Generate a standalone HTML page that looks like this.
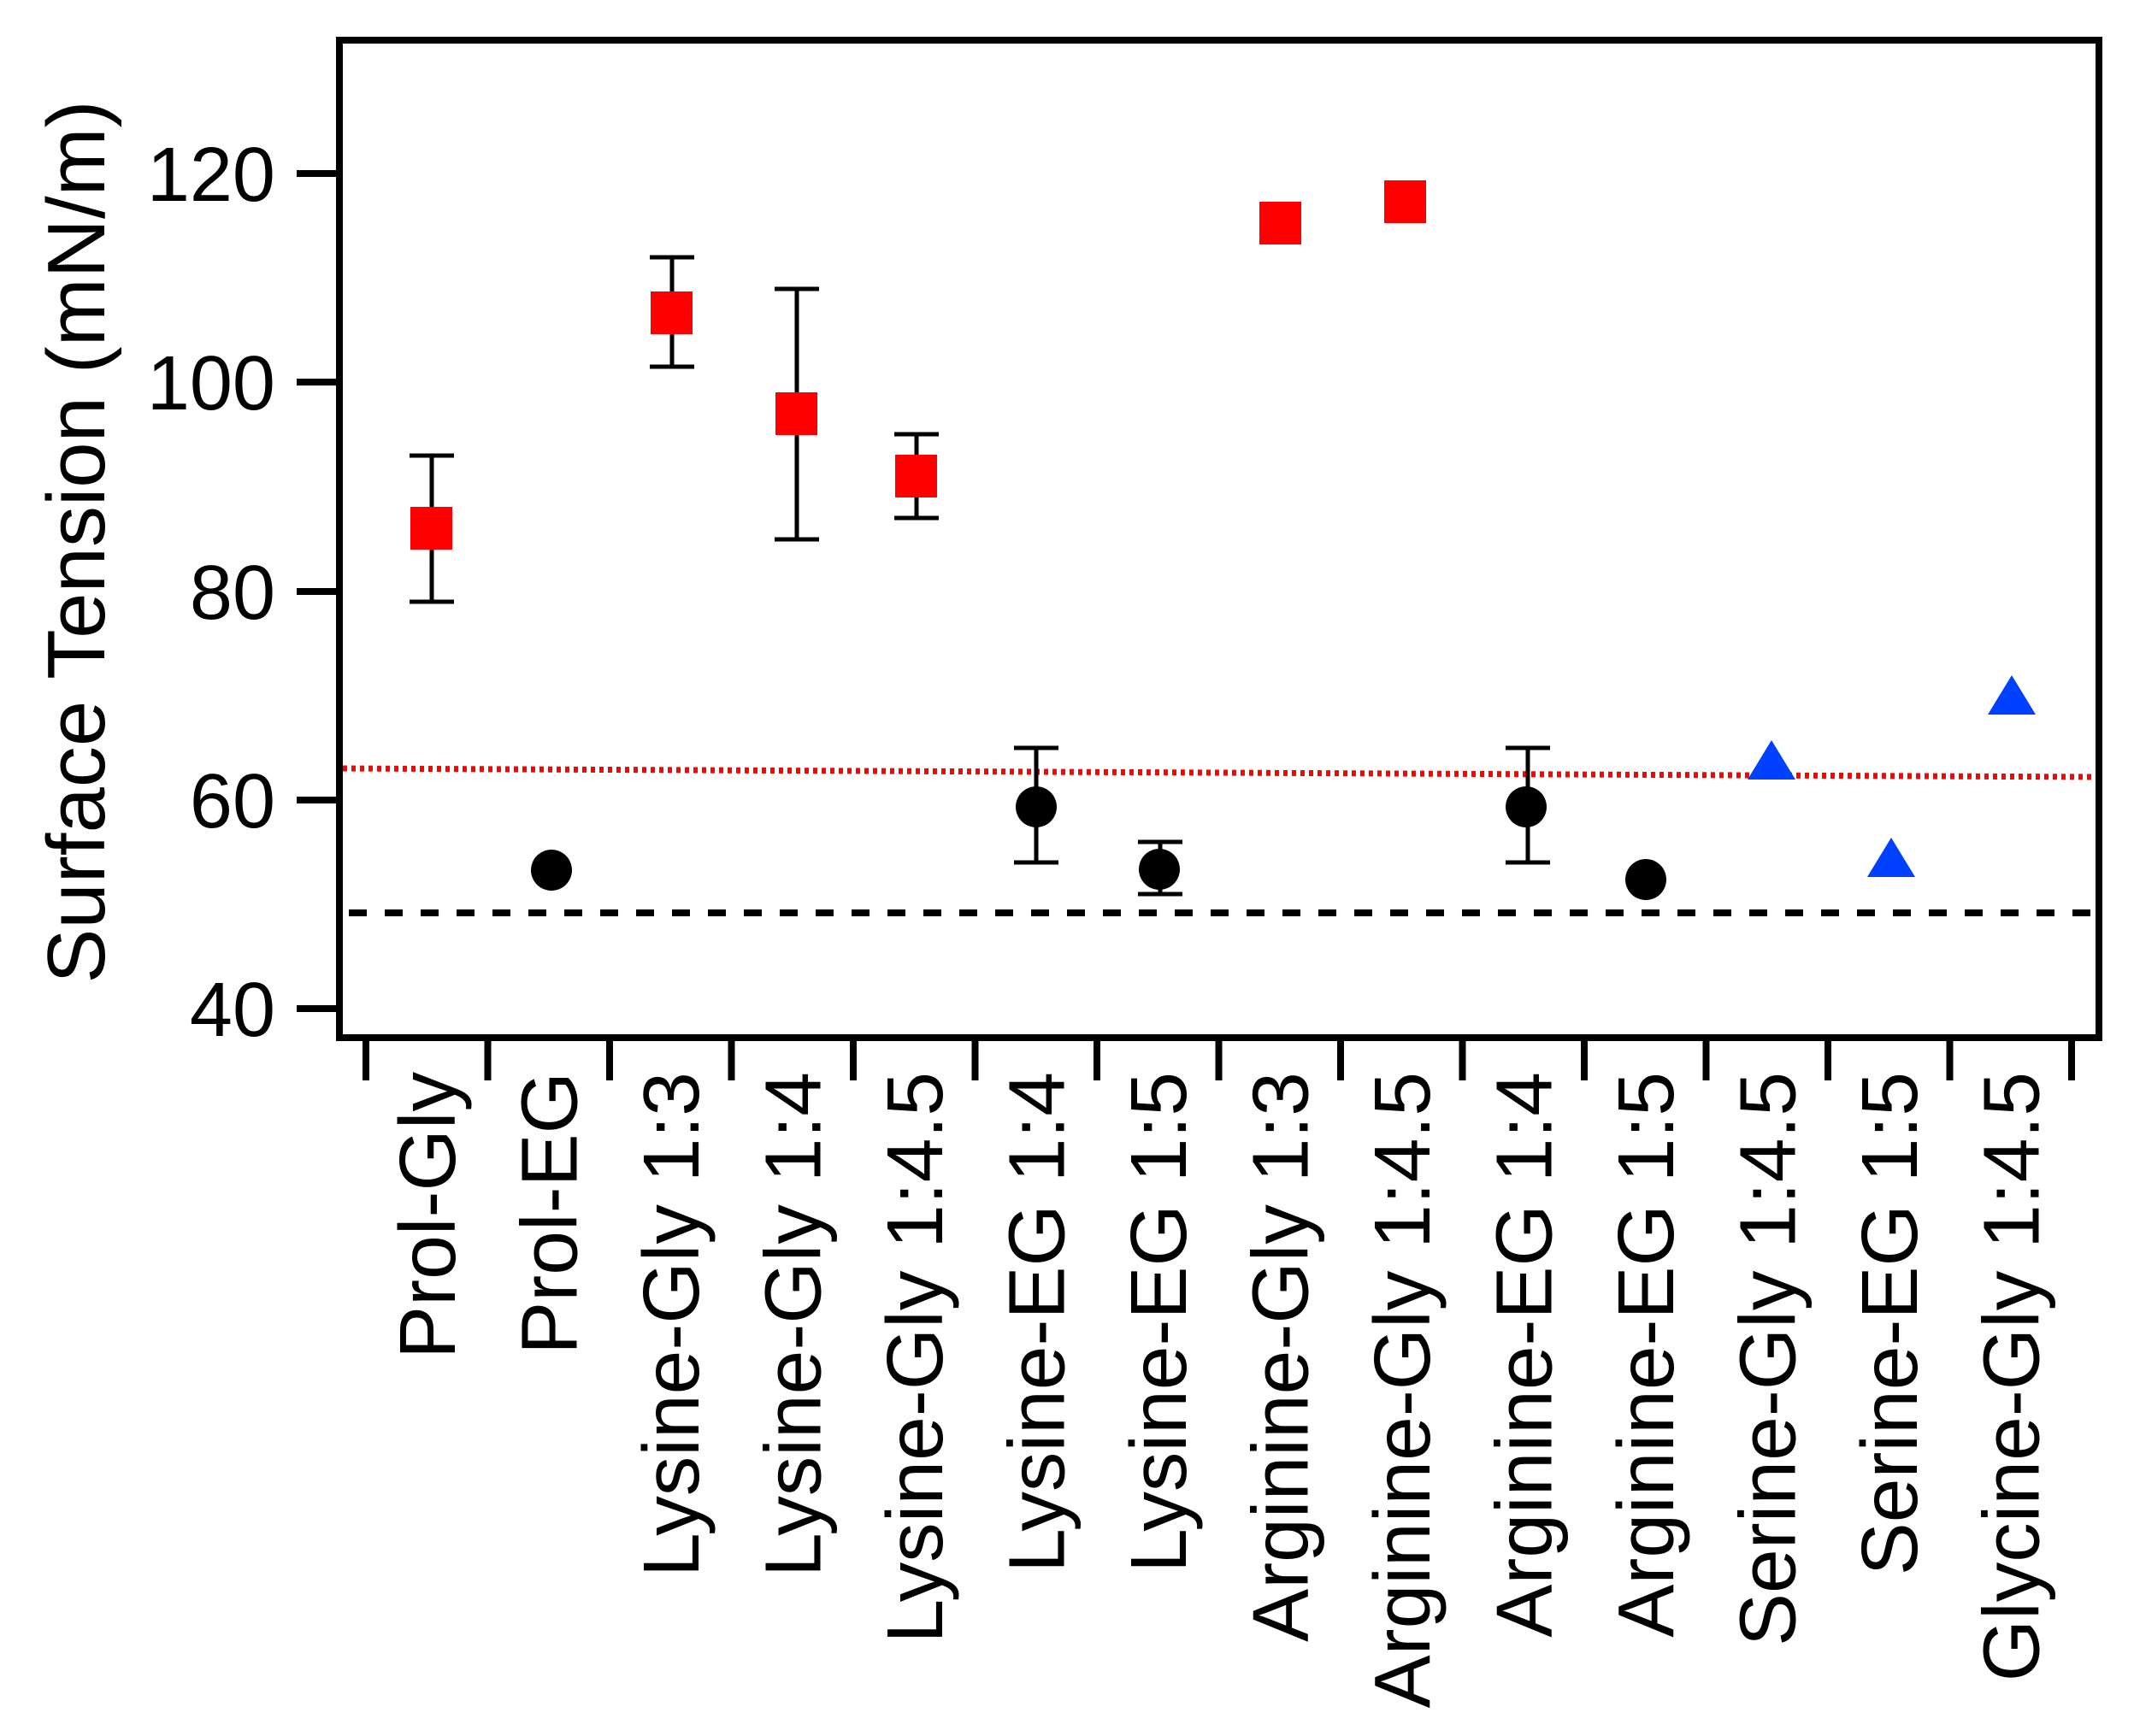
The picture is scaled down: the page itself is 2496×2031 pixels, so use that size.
<!DOCTYPE html>
<html><head><meta charset="utf-8"><style>html,body{margin:0;padding:0;background:#fff}svg{display:block}</style></head>
<body>
<svg width="2496" height="2031" viewBox="0 0 2496 2031" xmlns="http://www.w3.org/2000/svg" font-family="Liberation Sans, Arial, sans-serif">
<rect width="2496" height="2031" fill="#fff"/>
<line x1="401" y1="899" x2="2451" y2="909" stroke="#ff0000" stroke-width="7" stroke-dasharray="5,5"/>
<line x1="408" y1="1068" x2="2451" y2="1068" stroke="#000" stroke-width="8" stroke-dasharray="21,21"/>
<rect x="397" y="47" width="2058" height="1167" fill="none" stroke="#000" stroke-width="8"/>
<g stroke="#000" stroke-width="8">
<line x1="347" y1="203" x2="397" y2="203"/>
<line x1="347" y1="447" x2="397" y2="447"/>
<line x1="347" y1="692" x2="397" y2="692"/>
<line x1="347" y1="936" x2="397" y2="936"/>
<line x1="347" y1="1180" x2="397" y2="1180"/>
</g>
<g font-size="90" text-anchor="end" fill="#000">
<text x="322" y="235">120</text>
<text x="322" y="479">100</text>
<text x="322" y="724">80</text>
<text x="322" y="968">60</text>
<text x="322" y="1212">40</text>
</g>
<text transform="translate(122,634) rotate(-90)" font-size="96" text-anchor="middle">Surface Tension (mN/m)</text>
<g stroke="#000" stroke-width="8">
<line x1="428" y1="1214" x2="428" y2="1264"/><line x1="570.5" y1="1214" x2="570.5" y2="1264"/><line x1="713" y1="1214" x2="713" y2="1264"/><line x1="855.5" y1="1214" x2="855.5" y2="1264"/><line x1="998" y1="1214" x2="998" y2="1264"/><line x1="1140.5" y1="1214" x2="1140.5" y2="1264"/><line x1="1283" y1="1214" x2="1283" y2="1264"/><line x1="1425.5" y1="1214" x2="1425.5" y2="1264"/><line x1="1568" y1="1214" x2="1568" y2="1264"/><line x1="1710.5" y1="1214" x2="1710.5" y2="1264"/><line x1="1853" y1="1214" x2="1853" y2="1264"/><line x1="1995.5" y1="1214" x2="1995.5" y2="1264"/><line x1="2138" y1="1214" x2="2138" y2="1264"/><line x1="2280.5" y1="1214" x2="2280.5" y2="1264"/><line x1="2423" y1="1214" x2="2423" y2="1264"/>
</g>
<g font-size="93" text-anchor="end" fill="#000">
<text transform="translate(532,1254) rotate(-90)">Prol-Gly</text>
<text transform="translate(674.5,1254) rotate(-90)">Prol-EG</text>
<text transform="translate(817,1254) rotate(-90)">Lysine-Gly 1:3</text>
<text transform="translate(959.5,1254) rotate(-90)">Lysine-Gly 1:4</text>
<text transform="translate(1102,1254) rotate(-90)">Lysine-Gly 1:4.5</text>
<text transform="translate(1244.5,1254) rotate(-90)">Lysine-EG 1:4</text>
<text transform="translate(1387,1254) rotate(-90)">Lysine-EG 1:5</text>
<text transform="translate(1529.5,1254) rotate(-90)">Arginine-Gly 1:3</text>
<text transform="translate(1672,1254) rotate(-90)">Arginine-Gly 1:4.5</text>
<text transform="translate(1814.5,1254) rotate(-90)">Arginine-EG 1:4</text>
<text transform="translate(1957,1254) rotate(-90)">Arginine-EG 1:5</text>
<text transform="translate(2099.5,1254) rotate(-90)">Serine-Gly 1:4.5</text>
<text transform="translate(2242,1254) rotate(-90)">Serine-EG 1:5</text>
<text transform="translate(2384.5,1254) rotate(-90)">Glycine-Gly 1:4.5</text>
</g>
<g stroke="#000" stroke-width="5" fill="none">
<path d="M505 533V704M479 533H531M479 704H531"/>
<path d="M786 301V429M760 301H812M760 429H812"/>
<path d="M932 338V631M906 338H958M906 631H958"/>
<path d="M1072 508V606M1046 508H1098M1046 606H1098"/>
<path d="M1212 875V1009M1186 875H1238M1186 1009H1238"/>
<path d="M1357 985V1046M1331 985H1383M1331 1046H1383"/>
<path d="M1787 875V1009M1761 875H1813M1761 1009H1813"/>
</g>
<g fill="#ff0000">
<rect x="480" y="593" width="49" height="50"/>
<rect x="761" y="341" width="49" height="50"/>
<rect x="907" y="459" width="49" height="50"/>
<rect x="1047" y="532" width="49" height="50"/>
<rect x="1473" y="236" width="49" height="50"/>
<rect x="1619" y="211" width="49" height="50"/>
</g>
<g fill="#000">
<circle cx="645" cy="1018" r="24"/>
<circle cx="1212" cy="944" r="24"/>
<circle cx="1356" cy="1017" r="24"/>
<circle cx="1785" cy="944" r="24"/>
<circle cx="1925" cy="1029" r="24"/>
</g>
<g fill="#0040ff">
<polygon points="2072,866 2100,912 2044,912"/>
<polygon points="2212,980 2240,1026 2184,1026"/>
<polygon points="2353,790 2381,836 2325,836"/>
</g>
</svg>
</body></html>
